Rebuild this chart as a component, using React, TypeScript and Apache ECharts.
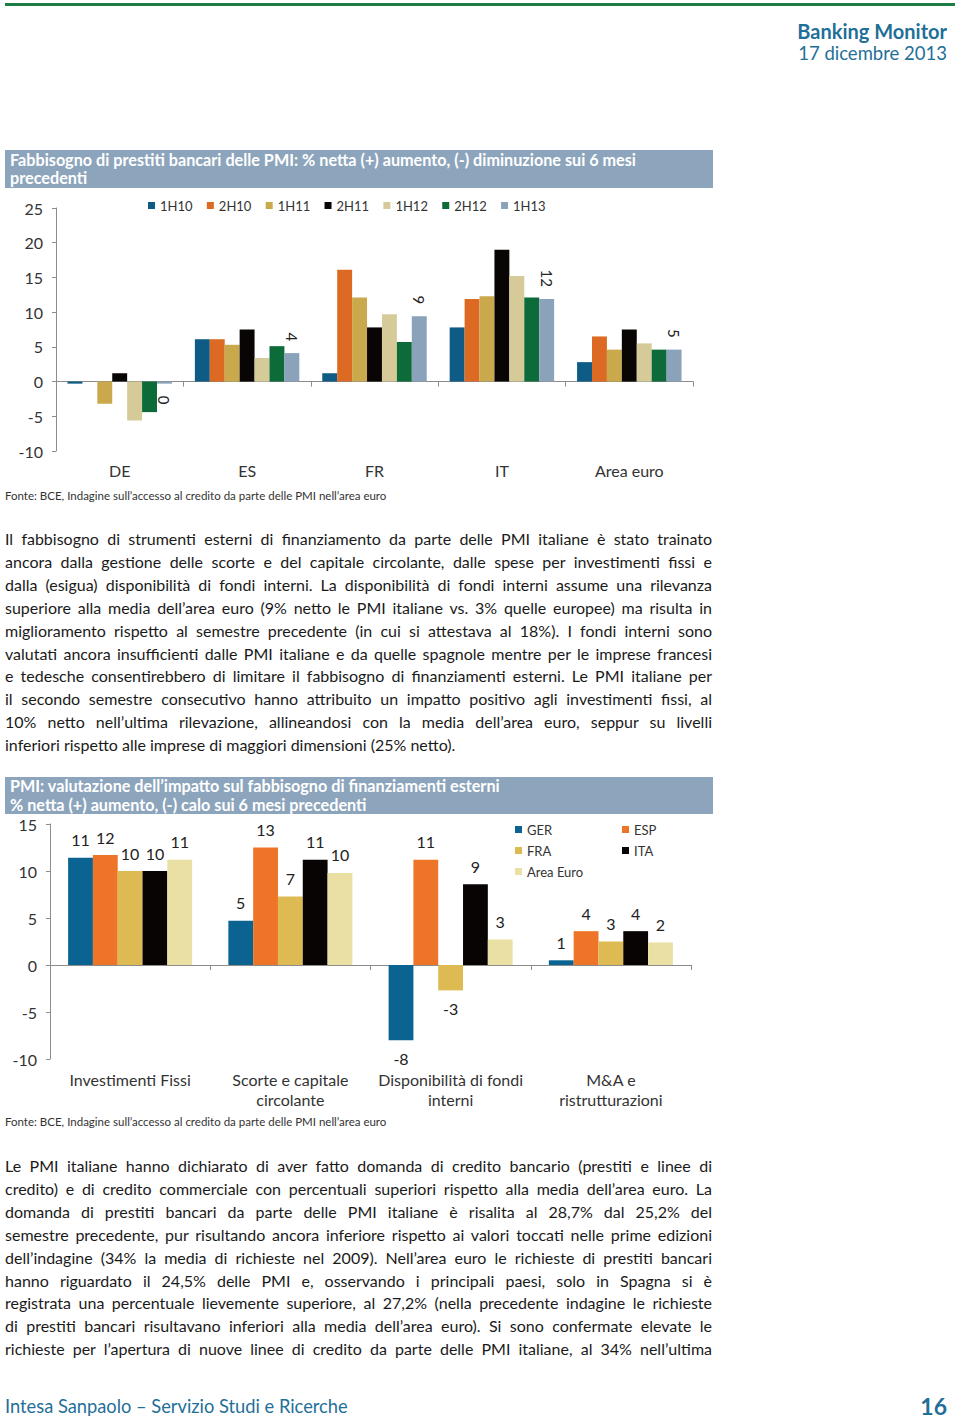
import React, { useEffect, useRef } from "react";
import * as echarts from "echarts";

const FONT = 'Lato, "Open Sans", sans-serif';
const TEAL = "#1F6F98";

// ---------- Chart 1 data ----------
const c1Categories = ["DE", "ES", "FR", "IT", "Area euro"];
const c1SeriesNames = ["1H10", "2H10", "1H11", "2H11", "1H12", "2H12", "1H13"];
const c1_1H10 = [-0.3, 6.1, 1.2, 7.8, 2.8];
const c1_2H10 = [0, 6.1, 16.1, 11.9, 6.5];
const c1_1H11 = [-3.2, 5.3, 12.1, 12.3, 4.6];
const c1_2H11 = [1.2, 7.5, 7.8, 19.0, 7.5];
const c1_1H12 = [-5.6, 3.4, 9.7, 15.2, 5.5];
const c1_2H12 = [-4.4, 5.1, 5.7, 12.1, 4.6];
const c1_1H13 = [-0.3, 4.1, 9.4, 11.9, 4.6];
const c1Values = [c1_1H10, c1_2H10, c1_1H11, c1_2H11, c1_1H12, c1_2H12, c1_1H13];
const c1Colors = ["#0E5C86", "#DD6A23", "#C9A94C", "#0A0505", "#D6CB98", "#0C6B38", "#8AA3BB"];
const c1Min = -10;
const c1Max = 25;
const c1Interval = 5;

// ---------- Chart 2 data ----------
const c2Categories = [
  "Investimenti Fissi",
  "Scorte e capitale\ncircolante",
  "Disponibilità di fondi\ninterni",
  "M&A e\nristrutturazioni",
];
const c2SeriesNames = ["GER", "ESP", "FRA", "ITA", "Area Euro"];
const c2_GER = [11.4, 4.7, -8.0, 0.5];
const c2_ESP = [11.7, 12.5, 11.2, 3.6];
const c2_FRA = [10.0, 7.3, -2.7, 2.5];
const c2_ITA = [10.0, 11.2, 8.6, 3.6];
const c2_AreaEuro = [11.2, 9.8, 2.7, 2.4];
const c2Values = [c2_GER, c2_ESP, c2_FRA, c2_ITA, c2_AreaEuro];
const c2Colors = ["#0B6391", "#EE7427", "#DDBB52", "#080404", "#EBE0A4"];
const c2Min = -10;
const c2Max = 15;
const c2Interval = 5;

const sourceNote = "Fonte: BCE, Indagine sull’accesso al credito da parte delle PMI nell’area euro";

const para1 = [
  "Il fabbisogno di strumenti esterni di finanziamento da parte delle PMI italiane è stato trainato",
  "ancora dalla gestione delle scorte e del capitale circolante, dalle spese per investimenti fissi e",
  "dalla (esigua) disponibilità di fondi interni. La disponibilità di fondi interni assume una rilevanza",
  "superiore alla media dell’area euro (9% netto le PMI italiane vs. 3% quelle europee) ma risulta in",
  "miglioramento rispetto al semestre precedente (in cui si attestava al 18%). I fondi interni sono",
  "valutati ancora insufficienti dalle PMI italiane e da quelle spagnole mentre per le imprese francesi",
  "e tedesche consentirebbero di limitare il fabbisogno di finanziamenti esterni. Le PMI italiane per",
  "il secondo semestre consecutivo hanno attribuito un impatto positivo agli investimenti fissi, al",
  "10% netto nell’ultima rilevazione, allineandosi con la media dell’area euro, seppur su livelli",
  "inferiori rispetto alle imprese di maggiori dimensioni (25% netto).",
];
const para2 = [
  "Le PMI italiane hanno dichiarato di aver fatto domanda di credito bancario (prestiti e linee di",
  "credito) e di credito commerciale con percentuali superiori rispetto alla media dell’area euro. La",
  "domanda di prestiti bancari da parte delle PMI italiane è risalita al 28,7% dal 25,2% del",
  "semestre precedente, pur risultando ancora inferiore rispetto ai valori toccati nelle prime edizioni",
  "dell’indagine (34% la media di richieste nel 2009). Nell’area euro le richieste di prestiti bancari",
  "hanno riguardato il 24,5% delle PMI e, osservando i principali paesi, solo in Spagna si è",
  "registrata una percentuale lievemente superiore, al 27,2% (nella precedente indagine le richieste",
  "di prestiti bancari risultavano inferiori alla media dell’area euro). Si sono confermate elevate le",
  "richieste per l’apertura di nuove linee di credito da parte delle PMI italiane, al 34% nell’ultima",
];

function useChart(buildOption: () => any) {
  const ref = useRef<HTMLDivElement>(null);
  useEffect(() => {
    if (!ref.current) return;
    const chart = echarts.init(ref.current, null, { renderer: "svg" });
    chart.setOption(buildOption());
    return () => chart.dispose();
  }, []);
  return ref;
}

function chart1Option() {
  const last = c1Values.length - 1;
  return {
    animation: false,
    textStyle: { fontFamily: FONT },
    graphic: [
      { type: "rect", shape: { x: 5, y: 5, width: 708, height: 38 }, style: { fill: "#8DA5BC" } },
      {
        type: "text",
        x: 10,
        y: 5,
        style: {
          text: "Fabbisogno di prestiti bancari delle PMI: % netta (+) aumento, (-) diminuzione sui 6 mesi\nprecedenti",
          fill: "#ffffff",
          fontFamily: FONT,
          fontWeight: "bold",
          fontSize: 16.2,
          lineHeight: 18.5,
          verticalAlign: "top",
        },
      },
      {
        type: "text",
        x: 5,
        y: 344,
        style: { text: sourceNote, fill: "#333", fontFamily: FONT, fontSize: 11.5, verticalAlign: "top" },
      },
    ],
    legend: {
      left: 148,
      top: 54,
      padding: 0,
      icon: "rect",
      itemWidth: 7,
      itemHeight: 7,
      itemGap: 14.3,
      data: c1SeriesNames,
      textStyle: { fontFamily: FONT, fontSize: 13, color: "#333" },
    },
    grid: { left: 56, top: 63, width: 637, height: 243, outerBoundsMode: "none", containLabel: false },
    xAxis: {
      type: "category",
      data: c1Categories,
      axisLine: { onZero: true, lineStyle: { color: "#8c8c8c", width: 1 } },
      axisTick: { show: true, length: 5, lineStyle: { color: "#8c8c8c" } },
      axisLabel: { margin: 10, fontFamily: FONT, fontSize: 16, color: "#333", lineHeight: 18 },
    },
    yAxis: {
      type: "value",
      min: c1Min,
      max: c1Max,
      interval: c1Interval,
      splitLine: { show: false },
      axisLine: { show: true, lineStyle: { color: "#8c8c8c", width: 1 } },
      axisTick: { show: true, length: 4, lineStyle: { color: "#8c8c8c" } },
      axisLabel: { margin: 13, fontFamily: FONT, fontSize: 16, color: "#333" },
    },
    series: c1SeriesNames.map((name, i) => ({
      name,
      type: "bar",
      barGap: "0%",
      barCategoryGap: "18%",
      itemStyle: { color: c1Colors[i] },
      data: c1Values[i].map((v) =>
        i === last
          ? {
              value: v,
              label:
                v < 0
                  ? { position: "bottom", align: "left", verticalAlign: "middle" }
                  : { position: "top", align: "right", verticalAlign: "middle" },
            }
          : v
      ),
      label: {
        show: i === last,
        rotate: -90,
        distance: 12,
        fontFamily: FONT,
        fontSize: 15,
        color: "#222",
        formatter: (p: any) => String(Math.round(p.value) === 0 ? 0 : Math.round(p.value)),
      },
    })),
  };
}

function chart2Option() {
  return {
    animation: false,
    textStyle: { fontFamily: FONT },
    graphic: [
      { type: "rect", shape: { x: 5, y: 2, width: 708, height: 37 }, style: { fill: "#8DA5BC" } },
      {
        type: "text",
        x: 10,
        y: 1.5,
        style: {
          text: "PMI: valutazione dell’impatto sul fabbisogno di finanziamenti esterni\n% netta (+) aumento, (-) calo sui 6 mesi precedenti",
          fill: "#ffffff",
          fontFamily: FONT,
          fontWeight: "bold",
          fontSize: 16.2,
          lineHeight: 18.5,
          verticalAlign: "top",
        },
      },
      {
        type: "text",
        x: 5,
        y: 340,
        style: { text: sourceNote, fill: "#333", fontFamily: FONT, fontSize: 11.5, verticalAlign: "top" },
      },
    ],
    legend: [
      {
        orient: "vertical",
        left: 515,
        top: 48,
        padding: 0,
        icon: "rect",
        itemWidth: 7,
        itemHeight: 7,
        itemGap: 8,
        data: [c2SeriesNames[0], c2SeriesNames[2], c2SeriesNames[4]],
        textStyle: { fontFamily: FONT, fontSize: 13, color: "#333", lineHeight: 13 },
      },
      {
        orient: "vertical",
        left: 622,
        top: 48,
        padding: 0,
        icon: "rect",
        itemWidth: 7,
        itemHeight: 7,
        itemGap: 8,
        data: [c2SeriesNames[1], c2SeriesNames[3]],
        textStyle: { fontFamily: FONT, fontSize: 13, color: "#333", lineHeight: 13 },
      },
    ],
    grid: { left: 50, top: 49, width: 641, height: 235, outerBoundsMode: "none", containLabel: false },
    xAxis: {
      type: "category",
      data: c2Categories,
      axisLine: { onZero: true, lineStyle: { color: "#8c8c8c", width: 1 } },
      axisTick: { show: true, length: 5, lineStyle: { color: "#8c8c8c" } },
      axisLabel: { margin: 10, fontFamily: FONT, fontSize: 16, color: "#333", lineHeight: 20, interval: 0 },
    },
    yAxis: {
      type: "value",
      min: c2Min,
      max: c2Max,
      interval: c2Interval,
      splitLine: { show: false },
      axisLine: { show: true, lineStyle: { color: "#8c8c8c", width: 1 } },
      axisTick: { show: true, length: 4, lineStyle: { color: "#8c8c8c" } },
      axisLabel: { margin: 13, fontFamily: FONT, fontSize: 16, color: "#333" },
    },
    series: c2SeriesNames.map((name, i) => ({
      name,
      type: "bar",
      barGap: "0%",
      barCategoryGap: "22.6%",
      itemStyle: { color: c2Colors[i] },
      data: c2Values[i].map((v) => ({ value: v, label: { position: v < 0 ? "bottom" : "top" } })),
      label: {
        show: true,
        distance: 10,
        fontFamily: FONT,
        fontSize: 16,
        color: "#222",
        formatter: (p: any) => String(Math.round(p.value)),
      },
    })),
  };
}

function Paragraph({ lines, top }: { lines: string[]; top: number }) {
  return (
    <div style={{ position: "absolute", left: 5, top, width: 707 }}>
      {lines.map((l, i) => {
        const isLastLine = i === lines.length - 1 && l.endsWith(".");
        return (
          <div
            key={i}
            style={{
              position: "absolute",
              left: 0,
              top: i * 22.9,
              width: 707,
              height: 23,
              lineHeight: "23px",
              fontSize: 16,
              color: "#1a1a1a",
              textAlign: isLastLine ? "left" : "justify",
              textAlignLast: isLastLine ? "left" : "justify",
            } as any}
          >
            {l}
          </div>
        );
      })}
    </div>
  );
}

export default function App() {
  const ref1 = useChart(chart1Option);
  const ref2 = useChart(chart2Option);
  return (
    <div
      style={{
        position: "absolute",
        left: 0,
        top: 0,
        width: 960,
        height: 1421,
        background: "#fff",
        fontFamily: FONT,
        overflow: "hidden",
      }}
    >
      <div style={{ position: "absolute", left: 5, top: 3, width: 950, height: 3, background: "#1E7B45" }} />
      <div
        style={{
          position: "absolute",
          right: 13,
          top: 20,
          fontSize: 20,
          lineHeight: "22px",
          fontWeight: 700,
          color: TEAL,
          textAlign: "right",
        }}
      >
        Banking Monitor
      </div>
      <div
        style={{
          position: "absolute",
          right: 13,
          top: 42,
          fontSize: 18.5,
          lineHeight: "22px",
          color: TEAL,
          textAlign: "right",
        }}
      >
        17 dicembre 2013
      </div>

      <div ref={ref1} style={{ position: "absolute", left: 0, top: 145, width: 720, height: 360 }} />
      <Paragraph lines={para1} top={527} />
      <div ref={ref2} style={{ position: "absolute", left: 0, top: 775, width: 720, height: 355 }} />
      <Paragraph lines={para2} top={1154} />

      <div
        style={{
          position: "absolute",
          left: 5,
          top: 1395,
          fontSize: 18.3,
          lineHeight: "22px",
          color: TEAL,
        }}
      >
        Intesa Sanpaolo – Servizio Studi e Ricerche
      </div>
      <div
        style={{
          position: "absolute",
          right: 13,
          top: 1393,
          fontSize: 23,
          lineHeight: "26px",
          fontWeight: 700,
          color: TEAL,
        }}
      >
        16
      </div>
    </div>
  );
}
